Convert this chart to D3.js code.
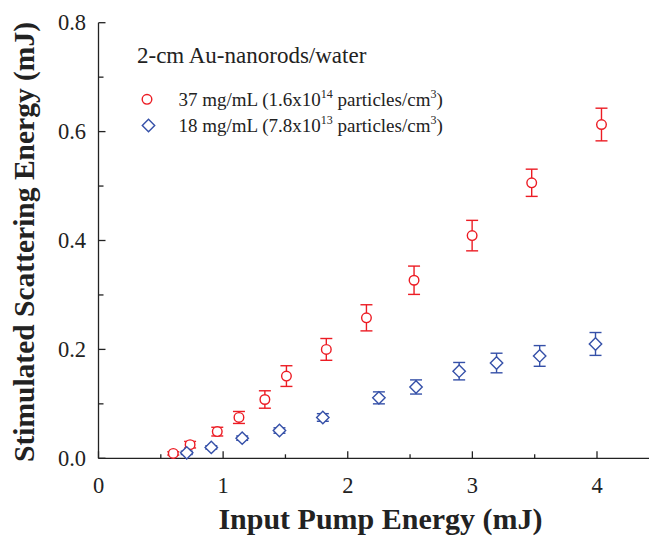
<!DOCTYPE html>
<html><head><meta charset="utf-8">
<script src="https://cdn.jsdelivr.net/npm/d3@7"></script>
<style>body{margin:0;background:#fff}svg{display:block}text{font-family:"Liberation Serif","Times New Roman",serif;fill:#222}</style>
</head><body><svg id="c" width="649" height="536"></svg>
<script>
// Data
const redX   = [0.60, 0.735, 0.953, 1.127, 1.335, 1.508, 1.828, 2.15, 2.532, 2.998, 3.476, 4.036];
const redY   = [0.009, 0.025, 0.049, 0.075, 0.108, 0.151, 0.200, 0.258, 0.327, 0.409, 0.506, 0.613];
const redErr = [0.003, 0.006, 0.008, 0.011, 0.016, 0.019, 0.020, 0.024, 0.026, 0.028, 0.025, 0.030];
const blueX   = [0.708, 0.905, 1.153, 1.452, 1.80, 2.25, 2.548, 2.894, 3.194, 3.54, 3.988];
const blueY   = [0.010, 0.020, 0.037, 0.051, 0.075, 0.111, 0.131, 0.160, 0.175, 0.188, 0.210];
const blueErr = [0.003, 0.003, 0.004, 0.005, 0.007, 0.011, 0.013, 0.016, 0.018, 0.019, 0.021];
const xTicks = [0, 1, 2, 3, 4];
const yTicks = [0.0, 0.2, 0.4, 0.6, 0.8];
const xMinor = [0.5, 1.5, 2.5, 3.5];
const yMinor = [0.1, 0.3, 0.5, 0.7];
const titleText = "2-cm Au-nanorods/water";
const xLabel = "Input Pump Energy (mJ)";
const yLabel = "Stimulated Scattering Energy (mJ)";
const RED = "#ec1c24", BLUE = "#3550a8";

const svg = d3.select("#c");
const L = 98.5, T = 22.7, B = 458.3, R = 649;
const x = d3.scaleLinear().domain([0, 4]).range([L, 597]);
const y = d3.scaleLinear().domain([0, 0.8]).range([B, T]);

// axes lines
const ax = svg.append("g").attr("stroke", "#222").attr("stroke-width", 1.3);
ax.append("line").attr("x1", L).attr("x2", R).attr("y1", B).attr("y2", B);
ax.append("line").attr("x1", L).attr("x2", L).attr("y1", T).attr("y2", B);
xTicks.forEach(t => ax.append("line").attr("x1", x(t)).attr("x2", x(t)).attr("y1", B).attr("y2", B - 7));
xMinor.forEach(t => ax.append("line").attr("x1", x(t)).attr("x2", x(t)).attr("y1", B).attr("y2", B - 4));
yTicks.forEach(t => ax.append("line").attr("x1", L).attr("x2", L + 7).attr("y1", y(t)).attr("y2", y(t)));
yMinor.forEach(t => ax.append("line").attr("x1", L).attr("x2", L + 5).attr("y1", y(t)).attr("y2", y(t)));

// tick labels
svg.append("g").selectAll("text").data(xTicks).join("text")
  .attr("x", d => x(d)).attr("y", 492.5).attr("text-anchor", "middle")
  .attr("font-size", 22.5).text(d => d3.format("d")(d));
svg.append("g").selectAll("text").data(yTicks).join("text")
  .attr("x", 86).attr("y", d => y(d) + 7.5).attr("text-anchor", "end")
  .attr("font-size", 22.5).text(d => d3.format(".1f")(d));

// axis titles
svg.append("text").attr("x", 380.5).attr("y", 528.5).attr("text-anchor", "middle")
  .attr("font-size", 30).attr("font-weight", "bold").text(xLabel);
svg.append("text").attr("transform", "translate(34,242) rotate(-90)").attr("text-anchor", "middle")
  .attr("font-size", 29.5).attr("font-weight", "bold").text(yLabel);

// error bars
function errBars(xs, ys, es, col) {
  const g = svg.append("g").attr("stroke", col).attr("stroke-width", 1.4).attr("fill", "none");
  xs.forEach((xv, i) => {
    const cx = x(xv), t = y(ys[i] + es[i]), b = y(ys[i] - es[i]);
    g.append("line").attr("x1", cx).attr("x2", cx).attr("y1", t).attr("y2", b);
    g.append("line").attr("x1", cx - 6).attr("x2", cx + 6).attr("y1", t).attr("y2", t);
    g.append("line").attr("x1", cx - 6).attr("x2", cx + 6).attr("y1", b).attr("y2", b);
  });
}
errBars(redX, redY, redErr, RED);
errBars(blueX, blueY, blueErr, BLUE);

const diamond = (cx, cy, s) => `M${cx},${cy - s}L${cx + s},${cy}L${cx},${cy + s}L${cx - s},${cy}Z`;
svg.append("g").selectAll("circle").data(redX).join("circle")
  .attr("cx", d => x(d)).attr("cy", (d, i) => y(redY[i])).attr("r", 4.8)
  .attr("fill", "#fff").attr("stroke", RED).attr("stroke-width", 1.4);
svg.append("g").selectAll("path").data(blueX).join("path")
  .attr("d", (d, i) => diamond(x(d), y(blueY[i]), 6.2))
  .attr("fill", "#fff").attr("stroke", BLUE).attr("stroke-width", 1.4);

// legend
svg.append("text").attr("x", 137).attr("y", 62.7).attr("font-size", 23).text(titleText);
svg.append("circle").attr("cx", 147).attr("cy", 99.3).attr("r", 4.8).attr("fill", "#fff").attr("stroke", RED).attr("stroke-width", 1.4);
svg.append("path").attr("d", diamond(148.5, 125.5, 6.2)).attr("fill", "#fff").attr("stroke", BLUE).attr("stroke-width", 1.4);
function legendLine(yy, pre, exp) {
  const t = svg.append("text").attr("x", 178.5).attr("y", yy).attr("font-size", 19);
  t.append("tspan").text(pre);
  t.append("tspan").attr("dy", -8).attr("font-size", 12).text(exp);
  t.append("tspan").attr("dy", 8).text(" particles/cm");
  t.append("tspan").attr("dy", -8).attr("font-size", 12).text("3");
  t.append("tspan").attr("dy", 8).text(")");
}
legendLine(106, "37 mg/mL (1.6x10", "14");
legendLine(131.7, "18 mg/mL (7.8x10", "13");
</script></body></html>
